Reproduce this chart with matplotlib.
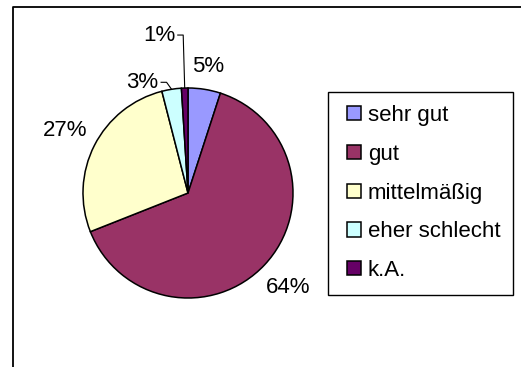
import matplotlib
matplotlib.use("Agg")
import matplotlib.pyplot as plt
from matplotlib.lines import Line2D
from matplotlib.patches import Rectangle
import numpy as np

# Survey answers and their shares (percent)
categories = ["sehr gut", "gut", "mittelmäßig", "eher schlecht", "k.A."]
shares = [5, 64, 27, 3, 1]
colors = ["#9999FF", "#993366", "#FFFFCC", "#CCFFFF", "#660066"]

W, H = 521, 367
plt.rcParams["font.family"] = ["Liberation Sans", "DejaVu Sans"]
FS = 16

fig = plt.figure(figsize=(W / 100, H / 100), dpi=100)
ax = fig.add_axes([0, 0, 1, 1])

# pie geometry in pixel units (y measured upward)
cx, cy, R = 188, H - 193, 105
wedges, _ = ax.pie(
    shares, colors=colors, startangle=90, counterclock=False,
    center=(cx, cy), radius=R,
    wedgeprops=dict(edgecolor="black", linewidth=1.1),
)
ax.set_xlim(0, W)
ax.set_ylim(0, H)
ax.set_aspect("equal")
ax.axis("off")

# labels: big slices outside the rim, small ones with leader lines
label_dist = {0: 1.22, 1: 1.31, 2: 1.31}
leader = {3: (-5, 7, 6), 4: (-1.5, 53, 6)}   # elbow dx, rise, dash length
for i, (w, v) in enumerate(zip(wedges, shares)):
    th = np.deg2rad((w.theta1 + w.theta2) / 2)
    ex, ey = cx + R * np.cos(th), cy + R * np.sin(th)
    txt = f"{v}%"
    if i in leader:
        dx, rise, dash = leader[i]
        bx, by = ex + dx, ey + rise
        ax.plot([ex, bx, bx - dash], [ey, by, by], color="black", lw=0.8,
                solid_capstyle="butt")
        ax.text(bx - dash - 2, by, txt, ha="right", va="center", fontsize=FS)
    else:
        d = label_dist[i]
        ax.text(cx + d * R * np.cos(th), cy + d * R * np.sin(th),
                txt, ha="center", va="center", fontsize=FS)

# legend box
ax.add_patch(Rectangle((328, H - 295), 185, 203, facecolor="white",
                       edgecolor="black", lw=1.0, zorder=1))
leg = ax.legend(
    wedges, categories, loc="upper left",
    bbox_to_anchor=(347 / W, 1 - 105 / H), bbox_transform=fig.transFigure,
    borderaxespad=0, borderpad=0, fontsize=FS, frameon=False,
    handlelength=0.62, handleheight=0.62, handletextpad=0.32,
    labelspacing=0.8,
)
leg.set_zorder(3)

# chart area border (top and left edges)
fig.add_artist(Line2D([12.5 / W, 12.5 / W, 1.0], [0.0, 1 - 6.5 / H, 1 - 6.5 / H],
                      transform=fig.transFigure, color="black", lw=1.3))

fig.savefig("out.png", dpi=100)
